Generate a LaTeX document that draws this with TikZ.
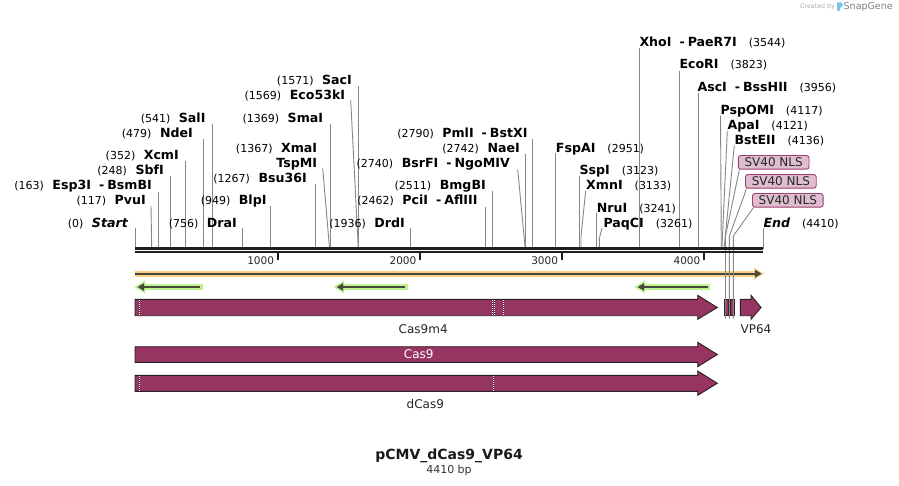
\documentclass[tikz,border=0pt]{standalone}
\usepackage{fontspec}
\setmainfont{DejaVu Sans}
\definecolor{feat}{RGB}{150,52,98}
\definecolor{featline}{RGB}{45,30,38}
\definecolor{sitegray}{RGB}{135,135,135}
\definecolor{rulerc}{RGB}{30,30,30}
\definecolor{orhalo}{RGB}{250,208,135}
\definecolor{grhalo}{RGB}{190,242,140}
\definecolor{arrdark}{RGB}{72,72,62}
\definecolor{nlsfill}{RGB}{222,190,206}
\definecolor{nlsdraw}{RGB}{160,60,110}
\definecolor{wmgray}{RGB}{170,170,170}
\definecolor{wmblue}{RGB}{120,200,235}
\newcommand{\Lnum}[1]{{\fontsize{11}{13}\selectfont(#1)}}
\newcommand{\Lname}[1]{{\fontsize{12.6}{13}\selectfont\bfseries #1}}
\newcommand{\hy}{\hspace{8pt}-\hspace{3pt}}
\newcommand{\llab}[5]{\node[lab, anchor=base east] (L#1) at (#2,{#3+4.5}) {\Lnum{#4}\hspace{8.5pt}\Lname{#5}};}
\newcommand{\rlab}[5]{\node[lab, anchor=base west] (L#1) at (#2,{#3+4.5}) {\Lname{#5}\hspace{12pt}\Lnum{#4}};}
\newcommand{\rsite}[4]{\coordinate (t#1) at (#2,#3); \coordinate (b#1) at (#4,249); \draw[site] (t#1) -- (b#1);}
\newcommand{\bsite}[6]{\coordinate (t#1) at (#2,#3); \coordinate (m#1) at (#4,#5); \coordinate (b#1) at (#6,249); \draw[site] (t#1) -- (m#1) -- (b#1);}
\newcommand{\sepline}[3]{\draw[featline,line width=1pt] (#1,#2)--(#1,#3); \draw[white,line width=1pt,dash pattern=on 1pt off 1pt] (#1,#2)--(#1,#3);}
\begin{document}
\begin{tikzpicture}[x=1pt,y=-1pt,
  lab/.style={inner sep=0pt, text=black},
  site/.style={draw=sitegray, line width=0.9pt},
  featbox/.style={fill=feat, draw=featline, line width=0.9pt, line join=miter},
  nls/.style={draw=nlsdraw, fill=nlsfill, line width=0.9pt, rounded corners=2.5pt, inner sep=0pt,
     minimum width=70.7pt, minimum height=13.6pt, font=\fontsize{12}{13}\selectfont, text=black!85},
  ticklab/.style={inner sep=0pt, font=\fontsize{10.5}{12}\selectfont, text=black!85}]
\useasboundingbox (0,0) rectangle (899,486);
\fill[white] (0,0) rectangle (899,486);

% --- enzyme site lines ---
\rsite{Start}{135.3}{228}{135.3}
\rsite{PvuI}{151}{205.7}{151.7}
\rsite{Esp}{158.3}{191.7}{158.3}
\rsite{SbfI}{170.5}{176}{170.5}
\rsite{XcmI}{185.5}{161}{185.5}
\rsite{NdeI}{203.3}{139}{203.3}
\rsite{SalI}{212.3}{124}{212.3}
\rsite{DraI}{242.5}{228}{242.5}
\rsite{BlpI}{270.3}{205.7}{270.3}
\rsite{Bsu}{315.5}{184}{315.5}
\rsite{TspMI}{322.7}{168.3}{329.6}
\rsite{SmaI}{330.3}{124}{330.3}
\rsite{Eco}{350.7}{100}{358.3}
\rsite{SacI}{358.6}{85.7}{358.6}
\rsite{DrdI}{410.5}{228}{410.5}
\rsite{PciI}{485.5}{206.7}{485.5}
\rsite{BmgBI}{492.5}{191}{492.5}
\rsite{BsrFI}{517.7}{169.3}{525.2}
\rsite{NaeI}{525.5}{154.3}{525.5}
\rsite{PmlI}{532.3}{139.3}{532.3}
\rsite{FspAI}{555.5}{153.3}{555.5}
\rsite{SspI}{579.7}{175.7}{579.7}
\bsite{XmnI}{585.7}{190.7}{581}{236}{581}
\rsite{NruI}{596.5}{213.3}{596.5}
\bsite{PaqCI}{602}{228.3}{599.4}{238}{599.4}
\rsite{XhoI}{639.7}{48.3}{639.7}
\rsite{EcoRI}{679.5}{70.7}{679.5}
\rsite{AscI}{698}{93.3}{698}
\rsite{PspOMI}{720.5}{115.7}{721.3}
\rsite{ApaI}{727.3}{130.7}{721.9}
\rsite{BstEII}{734.3}{145.7}{724}
\rsite{End}{763.3}{228}{763.3}

% --- left labels ---
\node[lab, anchor=base east] (LStart) at (128,227.2) {\Lnum{0}\hspace{8.5pt}{\fontsize{12.6}{13}\selectfont\bfseries\itshape Start}};
\llab{PvuI}{146}{200}{117}{PvuI}
\llab{Esp}{152}{185}{163}{Esp3I\hy BsmBI}
\llab{SbfI}{164}{169.7}{248}{SbfI}
\llab{XcmI}{179}{155.3}{352}{XcmI}
\llab{NdeI}{193}{133}{479}{NdeI}
\llab{SalI}{205.7}{118.3}{541}{SalI}
\llab{DraI}{237}{223}{756}{DraI}
\llab{BlpI}{266.7}{200}{949}{BlpI}
\llab{Bsu}{307}{178.3}{1267}{Bsu36I}
\llab{XmaI}{317.3}{148.3}{1367}{XmaI}
\node[lab, anchor=base east] (LTspMI) at (317.3,167.2) {\Lname{TspMI}};
\llab{SmaI}{323.3}{117.7}{1369}{SmaI}
\llab{Eco}{345.3}{94.7}{1569}{Eco53kI}
\llab{SacI}{352}{80}{1571}{SacI}
\llab{DrdI}{405}{223}{1936}{DrdI}
\llab{PciI}{477.7}{200}{2462}{PciI\hy AflIII}
\llab{BmgBI}{486}{185}{2511}{BmgBI}
\llab{BsrFI}{510}{163}{2740}{BsrFI\hy NgoMIV}
\llab{NaeI}{520}{148}{2742}{NaeI}
\llab{PmlI}{527.7}{132.7}{2790}{PmlI\hy BstXI}

% --- right labels ---
\rlab{FspAI}{555.7}{148}{2951}{FspAI}
\rlab{SspI}{579.3}{170}{3123}{SspI}
\rlab{XmnI}{586}{185}{3133}{XmnI}
\rlab{NruI}{596.7}{207.7}{3241}{NruI}
\rlab{PaqCI}{603.3}{222.7}{3261}{PaqCI}
\rlab{XhoI}{639.3}{42}{3544}{XhoI\hy PaeR7I}
\rlab{EcoRI}{679.3}{64.3}{3823}{EcoRI}
\rlab{AscI}{697.3}{86.7}{3956}{AscI\hy BssHII}
\rlab{PspOMI}{720.3}{110}{4117}{PspOMI}
\rlab{ApaI}{727.3}{125}{4121}{ApaI}
\rlab{BstEII}{734.3}{140}{4136}{BstEII}
\node[lab, anchor=base west] (LEnd) at (763.3,227.2) {{\fontsize{12.6}{13}\selectfont\bfseries\itshape End}\hspace{12pt}\Lnum{4410}};

% --- ORF arrows ---
\draw[orhalo, line width=6pt] (135,273.7) -- (757,273.7);
\fill[orhalo] (754,267.5) -- (764,273.7) -- (754,279.9) -- cycle;
\draw[arrdark, line width=2pt] (135,273.7) -- (756,273.7);
\fill[arrdark] (755,269.8) -- (761.5,273.7) -- (755,277.6) -- cycle;

\draw[grhalo, line width=6pt] (141,287) -- (202.7,287);
\fill[grhalo] (145,280.5) -- (134.5,287) -- (145,293.5) -- cycle;
\draw[arrdark, line width=2pt] (143,287) -- (200,287);
\fill[arrdark] (144,283.2) -- (137.5,287) -- (144,290.8) -- cycle;

\draw[grhalo, line width=6pt] (340,287) -- (407.7,287);
\fill[grhalo] (344,280.5) -- (333.7,287) -- (344,293.5) -- cycle;
\draw[arrdark, line width=2pt] (342,287) -- (405,287);
\fill[arrdark] (343,283.2) -- (336.7,287) -- (343,290.8) -- cycle;

\draw[grhalo, line width=6pt] (641,287) -- (710,287);
\fill[grhalo] (645,280.5) -- (634.5,287) -- (645,293.5) -- cycle;
\draw[arrdark, line width=2pt] (643,287) -- (708,287);
\fill[arrdark] (644,283.2) -- (637.7,287) -- (644,290.8) -- cycle;

% --- features ---
\draw[featbox] (135,299.3) -- (697.7,299.3) -- (697.7,295.3) -- (717.3,307.5) -- (697.7,319.3) -- (697.7,315.7) -- (135,315.7) -- cycle;
\sepline{139.7}{299.8}{315.2}
\sepline{492.3}{299.8}{315.2}
\sepline{494.4}{299.8}{315.2}
\sepline{503.7}{299.8}{315.2}
\draw[featbox] (724.3,299.3) rectangle (728.8,315.7);
\draw[featbox] (730.6,299.3) rectangle (734,315.7);
\draw[featbox] (740.3,299.3) -- (751,299.3) -- (751,295.3) -- (761,307.5) -- (751,319.3) -- (751,315.7) -- (740.3,315.7) -- cycle;
\node[lab, font=\fontsize{12}{13}\selectfont, text=black!85] (Lcas9m4) at (423.2,329) {Cas9m4};
\node[lab, font=\fontsize{12}{13}\selectfont, text=black!85] (Lvp64) at (756,329) {VP64};

\draw[featbox] (135,346.7) -- (697.7,346.7) -- (697.7,342.3) -- (717.3,354.5) -- (697.7,366.7) -- (697.7,362.3) -- (135,362.3) -- cycle;
\node[lab, font=\fontsize{12}{13}\selectfont, text=white] (Lcas9) at (418.7,354.3) {Cas9};

\draw[featbox] (135,375.3) -- (697.7,375.3) -- (697.7,371) -- (717.3,383.3) -- (697.7,395.3) -- (697.7,391.3) -- (135,391.3) -- cycle;
\sepline{139.7}{375.8}{390.8}
\sepline{493.7}{375.8}{390.8}
\node[lab, font=\fontsize{12}{13}\selectfont, text=black!85] (Ldcas9) at (425.3,404.3) {dCas9};

% --- SV40 NLS ---
\node[nls] (nls1) at (773.65,162.35) {SV40 NLS};
\node[nls] (nls2) at (780.85,181.3) {SV40 NLS};
\node[nls] (nls3) at (787.8,200.3) {SV40 NLS};
\coordinate (n1m) at (725.5,236); \coordinate (n1b) at (725.5,318.7);
\coordinate (n2m) at (729.4,236); \coordinate (n2b) at (729.4,318.7);
\coordinate (n3m) at (733.3,236); \coordinate (n3b) at (733.3,318.7);
\draw[site] ([xshift=1.5pt]nls1.south west) -- (n1m) -- (n1b);
\draw[site] ([xshift=1.5pt]nls2.south west) -- (n2m) -- (n2b);
\draw[site] ([xshift=1.5pt]nls3.south west) -- (n3m) -- (n3b);

% --- ruler ---
\draw[rulerc, line width=2.7pt] (135,248.7) -- (763.3,248.7);
\draw[rulerc, line width=2pt] (135,252.3) -- (763.3,252.3);
\foreach \tx/\tl in {277.7/1000, 420/2000, 561.7/3000, 704/4000} {
  \draw[rulerc, line width=1.8pt] (\tx,253) -- (\tx,260.3);
  \node[ticklab, anchor=base east] (T\tl) at (\tx-3.5,264.2) {\tl};
}

% --- title ---
\node[lab, font=\fontsize{14}{16}\selectfont\bfseries, text=black!90] (title) at (449,455.5) {pCMV\_dCas9\_VP64};
\node[lab, font=\fontsize{11}{13}\selectfont, text=black!80] (bp) at (449,470.7) {4410 bp};

% --- watermark ---
\node[anchor=base west, inner sep=0pt, text=wmgray, font=\fontsize{6.3}{7}\selectfont] (wm1) at (800,9) {Created by};
\fill[wmblue] (837,2.5) -- (841.5,2.5) .. controls (843.5,3.5) and (843.5,6.5) .. (840.5,7.5) -- (839.5,11) -- (837,11) -- cycle;
\node[anchor=base west, inner sep=0pt, text=black!50, font=\fontsize{9.5}{10}\selectfont] (wm2) at (843.5,10) {SnapGene};
\end{tikzpicture}
\end{document}
